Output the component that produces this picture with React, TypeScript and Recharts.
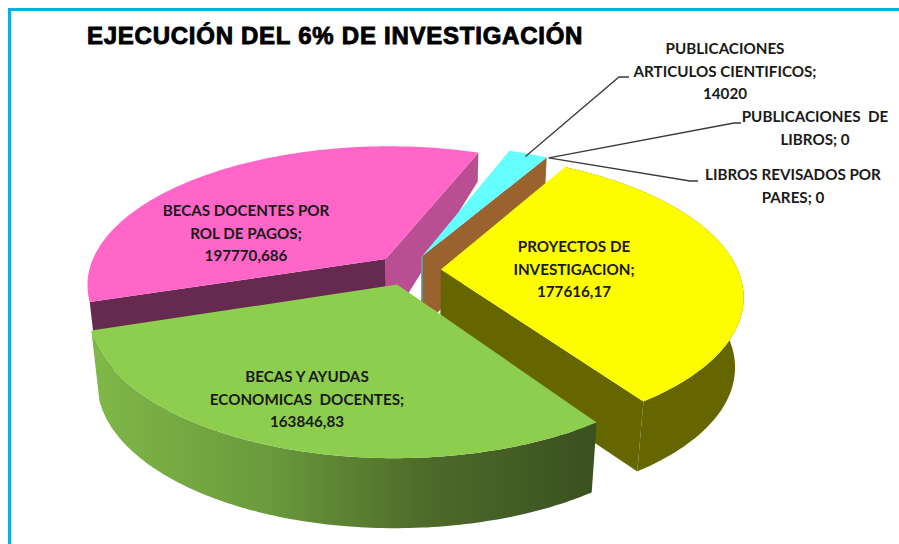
import React from "react";
import { PieChart, Pie } from "recharts";

const TITLE_LEAD = "EJECUCIÓN";
const TITLE_REST = "DEL 6% DE INVESTIGACIÓN";
// Order follows the painter's order, back to front; the circle stays in the reference's order.
const categories = [
  "BECAS DOCENTES POR ROL DE PAGOS",
  "PUBLICACIONES ARTICULOS CIENTIFICOS",
  "PUBLICACIONES DE LIBROS",
  "LIBROS REVISADOS POR PARES",
  "PROYECTOS DE INVESTIGACION",
  "BECAS Y AYUDAS ECONOMICAS DOCENTES",
];
const values = [197770.686, 14020, 0, 0, 177616.17, 163846.83];
const labelLines = [
  ["BECAS DOCENTES POR", "ROL DE PAGOS;", "197770,686"],
  ["PUBLICACIONES", "ARTICULOS CIENTIFICOS;", "14020"],
  ["PUBLICACIONES  DE", "LIBROS; 0"],
  ["LIBROS REVISADOS POR", "PARES; 0"],
  ["PROYECTOS DE", "INVESTIGACION;", "177616,17"],
  ["BECAS Y AYUDAS", "ECONOMICAS  DOCENTES;", "163846,83"],
];
const labelCenterX = [246, 725, 815, 793, 574, 307];
const labelFirstBaseline = [216, 54, 122, 180, 252, 382];
const leaderElbows: (number[][] | null)[] = [
  null,
  [[619, 77], [629, 77]],
  [[734, 123], [741, 123]],
  [[690, 181], [698, 181]],
  null,
  null,
];
const topColors = ["#ff66c8", "#66ffff", "#66ffff", "#66ffff", "#fdfd00", "#8dce4f"];
const cutStartColors = ["#66294f", "none", "none", "none", "none", "none"];
const cutEndColors = ["#b94f92", "#99622e", "none", "none", "#666600", "none"];
const arcWallColors = ["none", "none", "none", "none", "#666600", "url(#greenWall)"];
const maxDepths = [70, 46, 0, 0, 70, 70];

const data = categories.map((name, i) => ({ name, value: values[i], index: i }));

const FONT = "Lato, 'Noto Sans', sans-serif";
const TILT = 0.46;
const PERSPECTIVE = 0.179;
const EXPLODE = 0.111;
const rad = Math.PI / 180;

function project(cx: number, cy: number, r: number, mid: number, angle: number, radius = 1) {
  const u = radius * Math.cos(angle * rad) + EXPLODE * Math.cos(mid * rad);
  const v = -radius * Math.sin(angle * rad) - EXPLODE * Math.sin(mid * rad);
  const w = 1 - PERSPECTIVE * v;
  return { x: cx + (r * u) / w, y: cy + (r * TILT * v) / w };
}

function lower(p: { x: number; y: number }, cx: number, maxDepth: number) {
  const d = Math.min(maxDepth, 29 + (p.y - 153) * 0.39);
  return { x: p.x - (p.x - cx) * 0.025 * (d / 68), y: p.y + d };
}

const toPath = (pts: { x: number; y: number }[]) =>
  "M" + pts.map((p) => `${p.x.toFixed(1)},${p.y.toFixed(1)}`).join("L") + "Z";

function Slice3D(props: any) {
  const { cx, cy, outerRadius: r, startAngle, endAngle, midAngle, index } = props;
  if (Math.abs(startAngle - endAngle) < 0.01) return null;
  const maxD = maxDepths[index];
  const arc: { x: number; y: number }[] = [];
  const steps = 120;
  for (let i = 0; i <= steps; i++) {
    arc.push(project(cx, cy, r, midAngle, startAngle + ((endAngle - startAngle) * i) / steps));
  }
  const apex = project(cx, cy, r, midAngle, midAngle, 0);
  const apexLow = lower(apex, cx, maxD);
  const face = (p: { x: number; y: number }) => [apex, p, lower(p, cx, maxD), apexLow];
  const wall = [...arc, ...arc.map((p) => lower(p, cx, maxD)).reverse()];
  const last = arc[arc.length - 1];
  const brownFoot = { x: apexLow.x + 16, y: apexLow.y + 10 };
  const endFace =
    index === 1 ? [apex, last, lower(last, cx, maxD), brownFoot, apexLow] : face(last);
  return (
    <g>
      <defs>
        <linearGradient id="greenWall" x1="0" y1="0" x2="1" y2="0">
          <stop offset="0" stopColor="#80b848" />
          <stop offset="0.35" stopColor="#6a9a3c" />
          <stop offset="0.65" stopColor="#4e6c2a" />
          <stop offset="1" stopColor="#3a5020" />
        </linearGradient>
      </defs>
      {cutStartColors[index] !== "none" && <path d={toPath(face(arc[0]))} fill={cutStartColors[index]} />}
      {arcWallColors[index] !== "none" && <path d={toPath(wall)} fill={arcWallColors[index]} />}
      {cutEndColors[index] !== "none" && <path d={toPath(endFace)} fill={cutEndColors[index]} />}
      {index === 1 && (
        <line x1={apex.x} y1={apex.y} x2={apexLow.x} y2={apexLow.y} stroke="#4fb4bd" strokeWidth={1.5} />
      )}
      <path d={toPath([apex, ...arc])} fill={topColors[index]} />
    </g>
  );
}

function SliceLabel(props: any) {
  const { cx, cy, outerRadius: r, midAngle, index } = props;
  const elbows = leaderElbows[index];
  const lines = labelLines[index];
  let leader: string | null = null;
  if (elbows) {
    const start = project(cx, cy, r, midAngle, midAngle, index === 1 ? 0.97 : 1);
    leader = `M${start.x},${start.y}` + elbows.map((p) => `L${p[0]},${p[1]}`).join("");
  }
  return (
    <g>
      {leader && <path d={leader} fill="none" stroke="#3a3a3a" strokeWidth={1.3} />}
      <text textAnchor="middle" fontFamily={FONT} fontWeight={700} fontSize={15.2} fill="#1a1a1a">
        {lines.map((line, i) => (
          <tspan key={i} x={labelCenterX[index]} y={labelFirstBaseline[index] + i * 22.7} xmlSpace="preserve">
            {line}
          </tspan>
        ))}
      </text>
    </g>
  );
}

const titleStyle: React.CSSProperties = {
  position: "absolute",
  top: 21,
  fontFamily: "'Liberation Sans', Arial, sans-serif",
  fontWeight: 700,
  fontSize: 24,
  lineHeight: "30px",
  color: "#000",
  whiteSpace: "nowrap",
  WebkitTextStroke: "0.9px #000",
  letterSpacing: 0.75,
};

export default function App() {
  return (
    <div style={{ position: "absolute", left: 0, top: 0, width: 899, height: 544, overflow: "hidden", background: "#fff" }}>
      <div
        style={{
          position: "absolute",
          left: 8,
          top: 8,
          width: 900,
          height: 540,
          borderLeft: "3px solid #0aaee2",
          borderTop: "3px solid #0aaee2",
        }}
      />
      <div style={{ ...titleStyle, left: 87 }}>{TITLE_LEAD}</div>
      <div style={{ ...titleStyle, left: 241 }}>{TITLE_REST}</div>
      <div style={{ position: "absolute", left: 0, top: 0 }}>
        <PieChart width={899} height={544} margin={{ top: 0, right: 0, bottom: 0, left: 0 }}>
          <Pie
            data={data}
            dataKey="value"
            nameKey="name"
            cx={408}
            cy={270}
            innerRadius={0}
            outerRadius={297}
            startAngle={197.8}
            endAngle={-162.2}
            isAnimationActive={false}
            shape={Slice3D}
            label={SliceLabel}
            labelLine={false}
            stroke="none"
          />
        </PieChart>
      </div>
    </div>
  );
}
